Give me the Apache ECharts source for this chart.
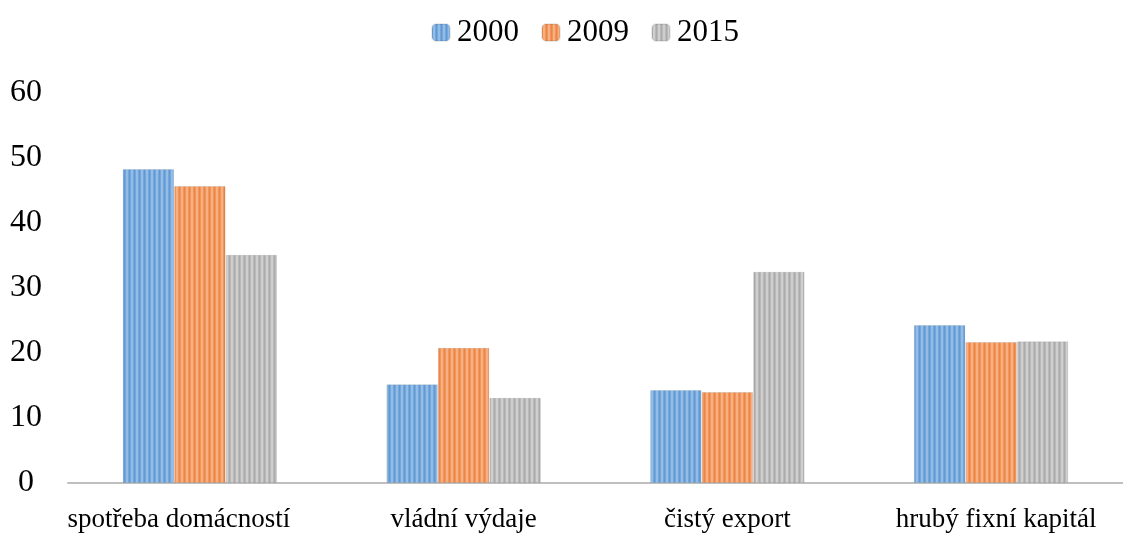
<!DOCTYPE html>
<html>
<head>
<meta charset="utf-8">
<script src="https://cdn.jsdelivr.net/npm/echarts@6/dist/echarts.min.js"></script>
<style>
  html, body { margin: 0; padding: 0; background: #fff; }
  #chart { width: 1123px; height: 534px; }
</style>
</head>
<body>
<div id="chart"></div>
<script>
const categories = ["spotřeba domácností", "vládní výdaje", "čistý export", "hrubý fixní kapitál"];
const years = ["2000", "2009", "2015"];
const values2000 = [48.3, 15.2, 14.3, 24.3];
const values2009 = [45.7, 20.8, 14.0, 21.7];
const values2015 = [35.1, 13.1, 32.5, 21.8];
const yTicks = [0, 10, 20, 30, 40, 50, 60];

// vertical stripe fill like the original
function stripes(base, light, dark) {
  const c = document.createElement("canvas");
  c.width = 5;
  c.height = 4;
  const ctx = c.getContext("2d");
  ctx.fillStyle = base;
  ctx.fillRect(0, 0, 5, 4);
  ctx.fillStyle = light;
  ctx.fillRect(1, 0, 2, 4);
  ctx.fillStyle = dark;
  ctx.fillRect(4, 0, 1, 4);
  return { image: c, repeat: "repeat" };
}

const fills = [
  stripes("#74a8dc", "#93bde6", "#6399d2"),
  stripes("#f2955a", "#f5b083", "#ec8545"),
  stripes("#b9b9b9", "#cfcfcf", "#ababab"),
];
const seriesData = [values2000, values2009, values2015];

// the first and last labels sit a bit inwards in the original
const labelShift = [42, 0, 0, -10];

const chart = echarts.init(document.getElementById("chart"));
chart.setOption({
  animation: false,
  textStyle: { fontFamily: "Liberation Serif" },
  legend: {
    top: 17,
    left: 431,
    padding: 0,
    itemWidth: 18,
    itemHeight: 17,
    itemGap: 22,
    textStyle: { fontSize: 31, color: "#000", fontFamily: "Liberation Serif", padding: [0, 0, 0, 2] },
    data: years,
  },
  grid: { left: 68, right: 0, top: 93, bottom: 51, containLabel: false },
  xAxis: {
    type: "category",
    data: categories.map((c, i) => ({
      value: c,
      textStyle: {
        padding: labelShift[i] > 0 ? [0, labelShift[i], 0, 0] : [0, 0, 0, -labelShift[i]],
      },
    })),
    axisLine: { lineStyle: { color: "#bfbfbf", width: 2 } },
    axisTick: { show: false },
    axisLabel: { color: "#000", fontSize: 27, margin: 23, interval: 0 },
  },
  yAxis: {
    type: "value",
    min: yTicks[0],
    max: yTicks[yTicks.length - 1],
    interval: 10,
    splitLine: { show: false },
    axisLine: { show: false },
    axisLabel: { color: "#000", fontSize: 32, margin: 42, align: "center" },
  },
  series: years.map((y, i) => ({
    name: y,
    type: "bar",
    data: seriesData[i],
    barWidth: 51.5,
    barGap: "0%",
    itemStyle: { color: fills[i], borderColor: "rgba(0,0,0,0.08)", borderWidth: 1 },
  })),
});
</script>
</body>
</html>
